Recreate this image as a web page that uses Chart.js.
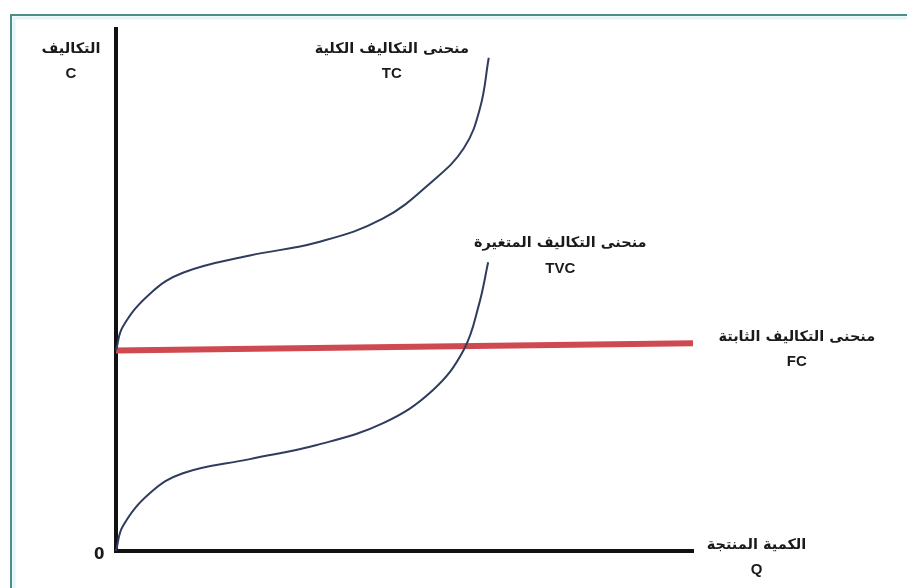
<!DOCTYPE html>
<html>
<head>
<meta charset="utf-8">
<script src="https://cdn.jsdelivr.net/npm/chart.js@4.4.1/dist/chart.umd.min.js"></script>
<style>
  body { margin: 0; background: #fff; }
  #chart { display: block; }
</style>
</head>
<body>
<canvas id="chart" width="907" height="588"></canvas>
<script>
"use strict";

// quantity (Q) and cost (C) values
var tcQ   = [0, 1.2, 5.9, 11.6, 23.2, 34.8, 46.3, 54.9, 60.3, 63.1, 64.6];
var tcC   = [38.4, 43.0, 49.3, 53.3, 56.6, 59.1, 63.7, 70.9, 77.2, 84.9, 94.5];
var tvcQ  = [0, 1.2, 5.9, 11.6, 23.2, 34.8, 46.3, 54.9, 60.3, 62.9, 64.5];
var tvcC  = [0, 4.8, 11.1, 14.9, 17.6, 20.3, 24.5, 30.8, 38.6, 47.2, 55.3];
var fcQ   = [0, 100];
var fcC   = [38.4, 39.8];

// annotation texts
var labelTexts = [
  ["التكاليف", "C"],
  ["منحنى التكاليف الكلية", "TC"],
  ["منحنى التكاليف المتغيرة", "TVC"],
  ["منحنى التكاليف الثابتة", "FC"],
  ["الكمية المنتجة", "Q"],
  ["0"]
];

function toPoints(xs, ys) {
  return xs.map(function(x, i) { return { x: x, y: ys[i] }; });
}

var frame = {
  id: "frame",
  beforeDraw: function(chart) {
    var ctx = chart.ctx;
    ctx.save();
    ctx.fillStyle = "#fff";
    ctx.fillRect(0, 0, chart.width, chart.height);
    ctx.strokeStyle = "#dff7f7";
    ctx.lineWidth = 3;
    ctx.strokeRect(14, 18, 1000, 1000);
    ctx.strokeStyle = "#4e8c88";
    ctx.lineWidth = 2;
    ctx.strokeRect(11, 15, 1000, 1000);
    ctx.restore();
  }
};

var texts = {
  id: "texts",
  afterDraw: function(chart) {
    var ctx = chart.ctx;
    var xs = chart.scales.x, ys = chart.scales.y;
    // label anchors in data units [q, c]; second line drawn below
    var anchors = [[-7.8, 96.2], [47.8, 96.2], [77, 58.9], [118, 41.0], [111, 1.2], [-2.9, -0.8]];
    ctx.save();
    ctx.fillStyle = "#1a1a1a";
    ctx.textAlign = "center";
    ctx.textBaseline = "middle";
    labelTexts.forEach(function(t, i) {
      var px = xs.getPixelForValue(anchors[i][0]);
      var py = ys.getPixelForValue(anchors[i][1]);
      if (t.length === 1) {
        ctx.font = "bold 15px 'DejaVu Sans'";
        ctx.fillText(t[0], px, py);
        return;
      }
      ctx.direction = "rtl";
      ctx.font = "bold 14.5px 'DejaVu Sans'";
      ctx.fillText(t[0], px, py);
      ctx.direction = "ltr";
      ctx.font = "bold 15px 'Liberation Sans'";
      ctx.fillText(t[1], px, py + 25);
    });
    ctx.restore();
  }
};

new Chart(document.getElementById("chart"), {
  type: "line",
  data: {
    datasets: [
      {
        label: "TC",
        data: toPoints(tcQ, tcC),
        borderColor: "#2f3c5e",
        borderWidth: 2,
        pointRadius: 0,
        tension: 0.4
      },
      {
        label: "TVC",
        data: toPoints(tvcQ, tvcC),
        borderColor: "#2f3c5e",
        borderWidth: 2,
        pointRadius: 0,
        tension: 0.4
      },
      {
        label: "FC",
        data: toPoints(fcQ, fcC),
        borderColor: "#cf4a50",
        borderWidth: 6,
        pointRadius: 0
      }
    ]
  },
  options: {
    responsive: false,
    animation: false,
    clip: false,
    layout: {
      padding: { left: 116, top: 29, right: 214, bottom: 37 }
    },
    plugins: {
      legend: { display: false },
      tooltip: { enabled: false }
    },
    scales: {
      x: {
        type: "linear",
        min: 0,
        max: 100,
        grid: { display: false, drawTicks: false },
        ticks: { display: false },
        border: { display: true, color: "#111", width: 4 }
      },
      y: {
        type: "linear",
        min: 0,
        max: 100,
        grid: { display: false, drawTicks: false },
        ticks: { display: false },
        border: { display: true, color: "#111", width: 4 }
      }
    }
  },
  plugins: [frame, texts]
});
</script>
</body>
</html>
